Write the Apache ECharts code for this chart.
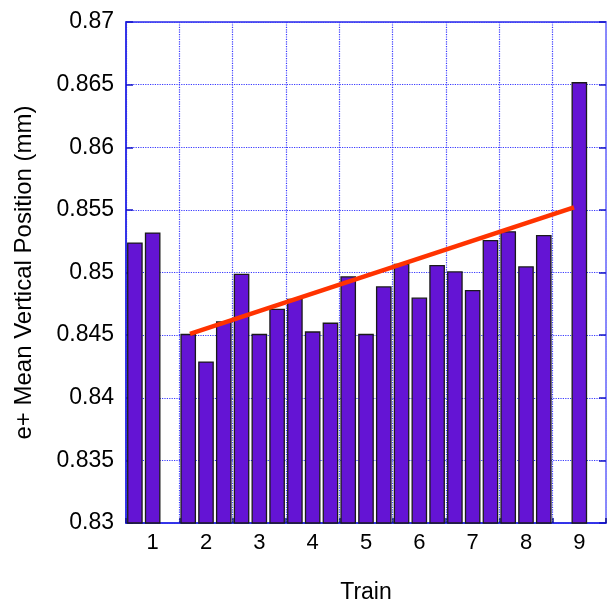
<!DOCTYPE html>
<html>
<head>
<meta charset="utf-8">
<script src="https://cdn.jsdelivr.net/npm/echarts@6/dist/echarts.min.js"></script>
<style>
  html, body { margin: 0; padding: 0; background: #fff; }
  #chart { width: 607px; height: 609px; }
</style>
</head>
<body>
<div id="chart"></div>
<script>
// train labels, three bar slots per train
var trains = ['1', '2', '3', '4', '5', '6', '7', '8', '9'];
// mean vertical position per slot (null = no bar)
var train1 = [0.8524, 0.8532, null];
var train2 = [0.8451, 0.8429, 0.8461];
var train3 = [0.8499, 0.8451, 0.8471];
var train4 = [0.8479, 0.8453, 0.8460];
var train5 = [0.8497, 0.8451, 0.8489];
var train6 = [0.8507, 0.8480, 0.8506];
var train7 = [0.8501, 0.8486, 0.8526];
var train8 = [0.8533, 0.8505, 0.8530];
var train9 = [null, 0.8652, null];
// fitted trend, [slot position, value]
var fitLine = [[3.6, 0.8451], [25.2, 0.8552]];
var yTicks = { min: 0.83, max: 0.87, step: 0.005 };

var slots = [];
trains.forEach(function (t) { slots.push('', t, ''); });
var values = [].concat(train1, train2, train3, train4, train5, train6, train7, train8, train9);

var blue = '#2a2ae6';
var font = 'Liberation Sans, Arial, sans-serif';

var myChart = echarts.init(document.getElementById('chart'));
var option = {
    animation: false,
    backgroundColor: '#fff',
    textStyle: { fontFamily: font, color: '#000' },
    grid: {
        left: 126,
        right: 1,
        top: 22,
        bottom: 85,
        show: true,
        borderColor: blue,
        borderWidth: 1.5
    },
    xAxis: [{
        type: 'category',
        data: slots,
        position: 'bottom',
        name: 'Train',
        nameLocation: 'middle',
        nameGap: 58,
        nameTextStyle: { fontSize: 23, color: '#000', fontFamily: font },
        axisLine: { lineStyle: { color: blue, width: 1.5 } },
        axisTick: { show: false },
        axisLabel: { interval: 0, fontSize: 22, color: '#000', margin: 9, fontFamily: font },
        splitLine: { show: false }
    }, {
        type: 'value',
        min: 0,
        max: slots.length,
        interval: 3,
        position: 'bottom',
        axisLine: { show: false },
        axisLabel: { show: false },
        axisTick: { show: true, inside: true, length: 5, lineStyle: { color: '#10108a', width: 1.5 } },
        splitLine: { show: true, lineStyle: { color: '#3a3aff', type: 'dotted', width: 1.2 } }
    }],
    yAxis: [{
        type: 'value',
        min: yTicks.min,
        max: yTicks.max,
        interval: yTicks.step,
        name: 'e+ Mean Vertical Position (mm)',
        nameLocation: 'middle',
        nameGap: 90,
        nameTextStyle: { fontSize: 24, color: '#000', fontFamily: font },
        axisLine: { show: true, lineStyle: { color: blue, width: 1.5 } },
        axisTick: { show: true, inside: true, length: 7, lineStyle: { color: '#1515c8', width: 1.5 } },
        axisLabel: {
            fontSize: 23,
            color: '#000',
            margin: 12,
            fontFamily: font,
            formatter: function (v) { return String(parseFloat(v.toFixed(3))); }
        },
        splitLine: { show: true, lineStyle: { color: '#3a3aff', type: 'dotted', width: 1.2 } }
    }, {
        type: 'value',
        min: yTicks.min,
        max: yTicks.max,
        interval: yTicks.step,
        position: 'right',
        axisLine: { show: true, lineStyle: { color: '#9a9aff', width: 1.5 } },
        axisTick: { show: true, inside: true, length: 7, lineStyle: { color: '#1515c8', width: 1.5 } },
        axisLabel: { show: false },
        splitLine: { show: false }
    }],
    series: [{
        name: 'Mean position',
        type: 'bar',
        xAxisIndex: 0,
        yAxisIndex: 0,
        data: values,
        barCategoryGap: '12%',
        itemStyle: {
            color: '#6414d4',
            borderColor: '#1a1a1a',
            borderWidth: 1.3
        }
    }, {
        name: 'Fit',
        type: 'line',
        xAxisIndex: 1,
        yAxisIndex: 0,
        data: fitLine,
        symbol: 'none',
        z: 5,
        lineStyle: { color: '#ff3300', width: 4.5 }
    }]
};
myChart.setOption(option);
</script>
</body>
</html>
